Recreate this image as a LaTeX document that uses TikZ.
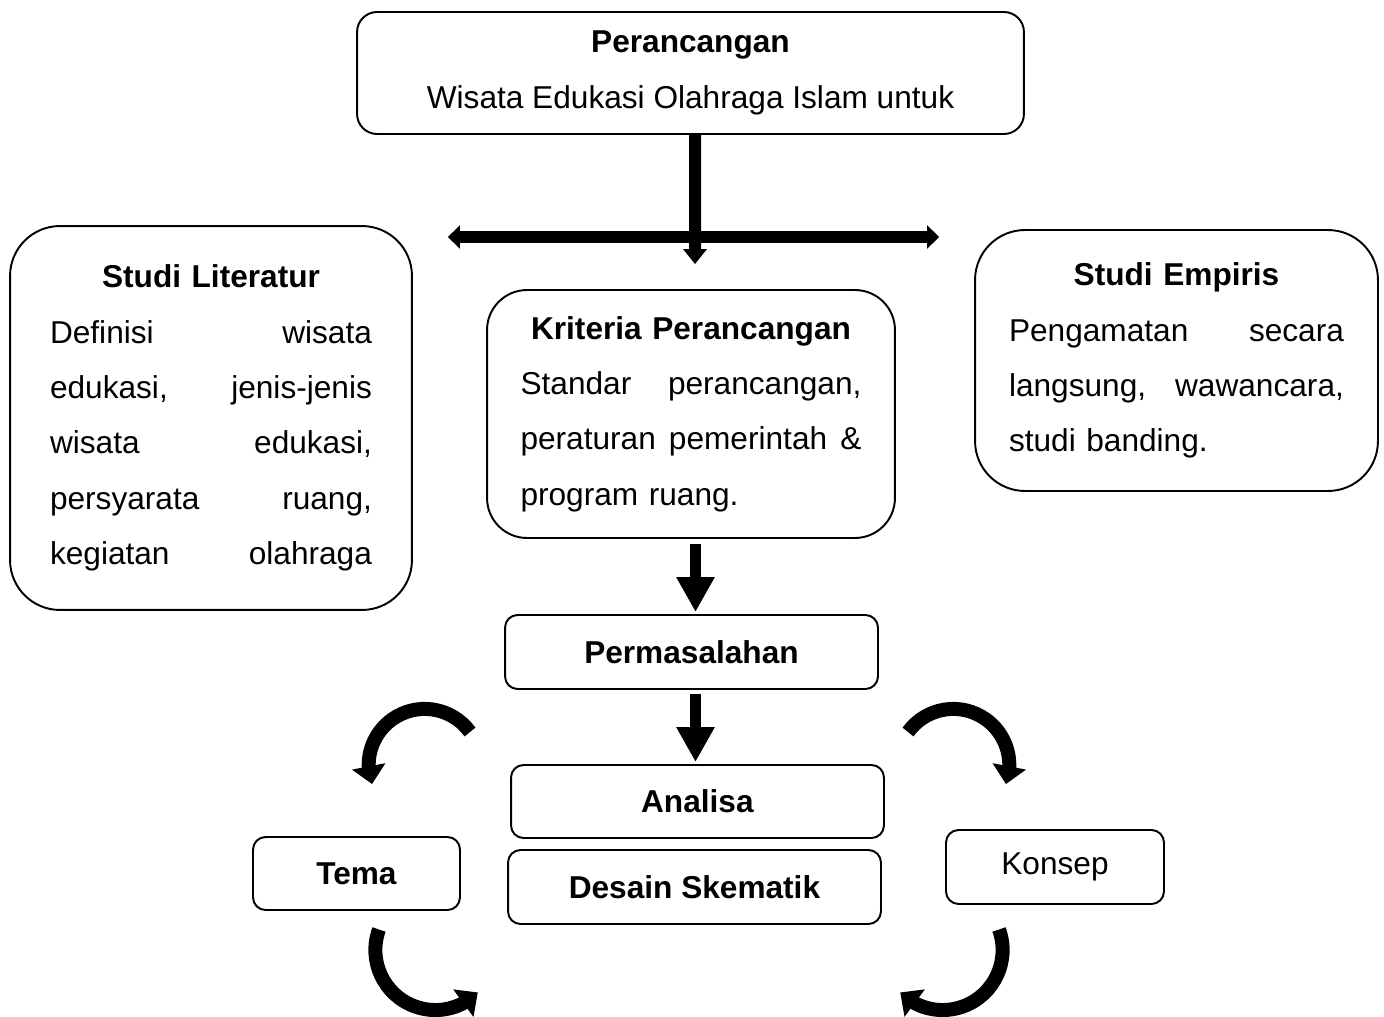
\documentclass[tikz,border=0pt]{standalone}
\usepackage{fontspec}
\setmainfont{Liberation Sans}
\usetikzlibrary{arrows.meta,bending}
\newcommand{\body}{\fontsize{18}{31.5}\selectfont}
\tikzset{
 every node/.append style={font=\body,align=center},
 card/.style={draw,line width=1.1pt,inner sep=0pt},
 bigcard/.style={card,rounded corners=1cm},
 slot/.style={card,rounded corners=0.25cm},
 split/.style={line width=0.24cm,{Triangle[width=0.46cm,length=0.24cm]}-{Triangle[width=0.46cm,length=0.24cm]}},
 stem/.style={line width=0.24cm,-{Triangle[width=0.46cm,length=0.3cm]}},
 flow/.style={line width=0.22cm,-{Triangle[width=0.72cm,length=0.7cm]}},
 turn/.style={line width=0.28cm,-{Triangle[width=0.66cm,length=0.36cm]}},
}

\begin{document}
\begin{tikzpicture}[x=0.02cm,y=-0.02cm]

\useasboundingbox (0,0) rectangle (1384,1017);
% top
\node[card,rounded corners=0.4cm,minimum width=13.34cm,minimum height=2.44cm] (top) at (690.5,73) {\textbf{Perancangan}\\Wisata Edukasi Olahraga Islam untuk};

% three studies
\node[bigcard,text width=6.44cm,minimum width=8.04cm,minimum height=7.68cm] (lit) at (211,418) {\textbf{Studi Literatur}\\
 Definisi\hfill wisata\\
 edukasi,\hfill jenis-jenis\\
 wisata\hfill edukasi,\\
 persyarata\hfill ruang,\\
 kegiatan\hfill olahraga};
\node[bigcard,rounded corners=0.8cm,text width=6.82cm,minimum width=8.16cm,minimum height=4.96cm] (kriteria) at (691,414) {\textbf{Kriteria Perancangan}\\
 Standar\hfill perancangan,\\
 peraturan\hfill pemerintah\hfill \&\\
 program ruang.\hfill\mbox{}};
\node[bigcard,text width=6.7cm,minimum width=8.06cm,minimum height=5.22cm] (emp) at (1176.5,360.5) {\textbf{Studi Empiris}\\
 Pengamatan\hfill secara\\
 langsung,\hfill wawancara,\\
 studi banding.\hfill\mbox{}};

% process
\node[slot,minimum width=7.46cm,minimum height=1.48cm] (perm) at (691.5,652) {\textbf{Permasalahan}};
\node[slot,minimum width=7.46cm,minimum height=1.46cm] (analisa) at (697.5,801.5) {\textbf{Analisa}};
\node[slot,minimum width=7.46cm,minimum height=1.48cm] (desain) at (694.5,887) {\textbf{Desain Skematik}};
\node[slot,minimum width=4.14cm,minimum height=1.46cm] (tema) at (356.5,873.5) {\textbf{Tema}};
\node[slot,minimum width=4.36cm,minimum height=1.48cm] (konsep) at (1055,867) {Konsep};

% arrows
\coordinate (fork) at (695,237);
\coordinate (axis) at (695.5,0);
\draw[stem,shorten >=0.5cm] ([xshift=0.09cm]top.south) -- ([xshift=0.08cm]kriteria.north);
\draw[split,shorten <=0.7cm,shorten >=0.7cm] (fork -| lit.east) -- (fork -| emp.west);
\draw[flow,shorten <=0.1cm,shorten >=0.04cm] (kriteria.south -| axis) -- (perm.north -| axis);
\draw[flow,shorten <=0.08cm,shorten >=0.04cm] (perm.south -| axis) -- (analisa.north -| axis);

% loops
\coordinate (loopA) at (470,732);
\coordinate (loopB) at (908,732);
\coordinate (loopC) at (379,929.5);
\coordinate (loopD) at (999,929.5);
\draw[turn] (loopA) arc[start angle=-36,end angle=-200,radius=56];
\draw[turn] (loopB) arc[start angle=-144,end angle=20,radius=56];
\draw[turn] (loopC) arc[start angle=200,end angle=45,radius=60];
\draw[turn] (loopD) arc[start angle=-20,end angle=135,radius=60];

\end{tikzpicture}
\end{document}
